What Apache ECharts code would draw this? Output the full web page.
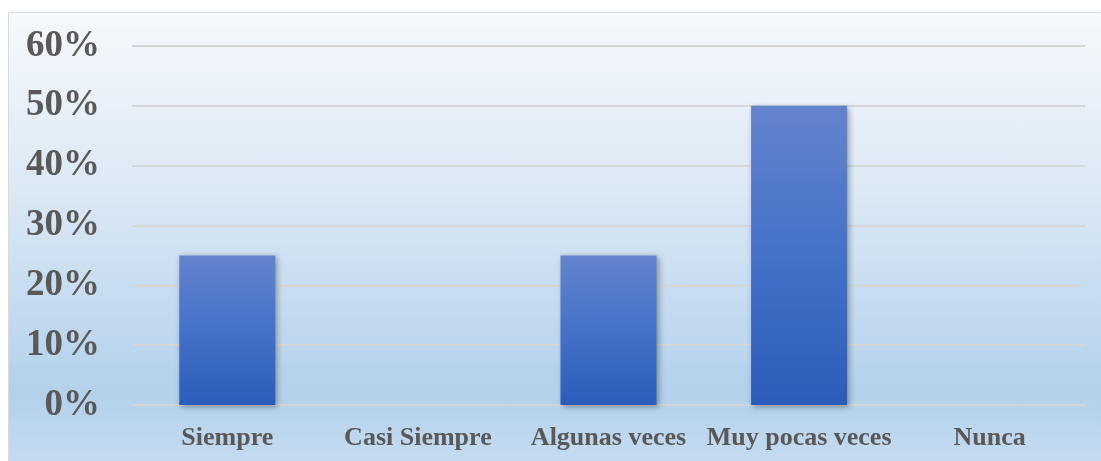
<!DOCTYPE html>
<html>
<head>
<meta charset="utf-8">
<script src="https://cdn.jsdelivr.net/npm/echarts@6/dist/echarts.min.js"></script>
<style>
  html, body { margin: 0; padding: 0; background: #ffffff; }
  #box {
    position: absolute; left: 8px; top: 12px; width: 1092px; height: 448px;
    border: 1px solid #d9d9d9; border-right: none; border-bottom: none;
    background: linear-gradient(to bottom, #f6f9fd 0%, #dbe8f5 40%, #b3d1eb 85%, #c4dbf0 100%);
  }
  #chart { width: 1092px; height: 448px; }
</style>
</head>
<body>
<div id="box"><div id="chart"></div></div>
<script>
const categories = ["Siempre", "Casi Siempre", "Algunas veces", "Muy pocas veces", "Nunca"];
const values = [25, 0, 25, 50, 0];
const yTicks = [0, 10, 20, 30, 40, 50, 60];

const chart = echarts.init(document.getElementById("chart"));

const option = {
  animation: false,
  grid: { left: 123, right: 16, top: 33, bottom: 56 },
  xAxis: {
    type: "category",
    data: categories,
    axisLine: { show: false },
    axisTick: { show: false },
    axisLabel: {
      interval: 0,
      hideOverlap: false,
      margin: 20,
      fontFamily: "Liberation Serif",
      fontWeight: "bold",
      fontSize: 26,
      color: "#595959"
    }
  },
  yAxis: {
    type: "value",
    min: yTicks[0],
    max: yTicks[yTicks.length - 1],
    interval: 10,
    axisLabel: {
      margin: 32,
      fontFamily: "Liberation Serif",
      fontWeight: "bold",
      fontSize: 37,
      color: "#595959",
      formatter: v => v + "%"
    },
    splitLine: { lineStyle: { color: "#d6d6d6", width: 2 } }
  },
  series: [
    {
      type: "bar",
      data: values,
      barWidth: 96,
      itemStyle: {
        color: new echarts.graphic.LinearGradient(0, 0, 0, 1, [
          { offset: 0, color: "#6484cd" },
          { offset: 0.5, color: "#4472c8" },
          { offset: 1, color: "#2c5cba" }
        ]),
        shadowBlur: 6,
        shadowColor: "rgba(0,0,0,0.35)",
        shadowOffsetX: 2,
        shadowOffsetY: 2
      }
    }
  ]
};

chart.setOption(option);
</script>
</body>
</html>
